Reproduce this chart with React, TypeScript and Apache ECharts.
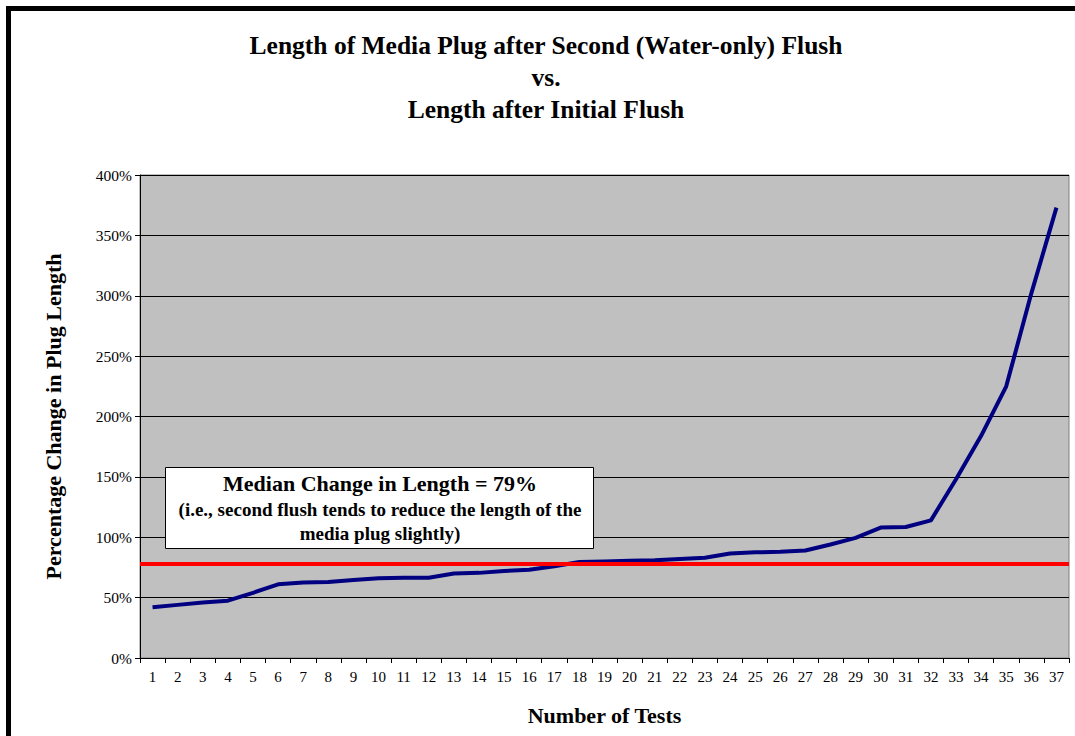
import React, { useEffect, useRef } from "react";
import * as echarts from "echarts";

const categories: string[] = Array.from({ length: 37 }, (_, i) => String(i + 1));
const changePct: number[] = [
  42, 44, 46, 47.5, 54, 61, 62.5, 63, 64.5, 66, 66.5, 66.5, 70, 70.5, 72, 73, 76,
  79.5, 80, 80.5, 81, 82, 83, 86.5, 87.5, 88, 89, 94, 99.5, 108, 108.5, 114,
  148, 184, 225, 302, 373,
];
const medianLine = 78;
const yTicks = { min: 0, max: 400, interval: 50 };
const titleLines = [
  "Length of Media Plug after Second (Water-only) Flush",
  "vs.",
  "Length after Initial Flush",
];
const boxLines = [
  "Median Change in Length = 79%",
  "(i.e., second flush tends to reduce the length of the",
  "media plug slightly)",
];

const FONT = "'Liberation Serif', 'Times New Roman', serif";

export default function App() {
  const ref = useRef<HTMLDivElement>(null);
  useEffect(() => {
    document.body.style.margin = "0";
    if (!ref.current) return;
    const chart = echarts.init(ref.current, null, { renderer: "svg" });
    const txt = (text: string, x: number, y: number, size: number, z = 101) => ({
      type: "text",
      x,
      y,
      z,
      style: {
        text,
        fontFamily: FONT,
        fontWeight: "bold",
        fontSize: size,
        fill: "#000",
        align: "center",
        verticalAlign: "middle",
      },
    });
    chart.setOption({
      animation: false,
      backgroundColor: "#ffffff",
      textStyle: { fontFamily: FONT },
      grid: {
        left: 140,
        top: 175,
        right: 6,
        bottom: 78,
        show: true,
        backgroundColor: "#c0c0c0",
        borderColor: "#808080",
        borderWidth: 1,
      },
      xAxis: {
        type: "category",
        data: categories,
        boundaryGap: true,
        name: "Number of Tests",
        nameLocation: "middle",
        nameGap: 46,
        nameTextStyle: { fontFamily: FONT, fontWeight: "bold", fontSize: 22, color: "#000" },
        axisLine: { lineStyle: { color: "#000", width: 1 } },
        axisTick: { show: true, length: 5, lineStyle: { color: "#000" } },
        axisLabel: { fontFamily: FONT, fontSize: 15, color: "#000", margin: 11, interval: 0 },
        splitLine: { show: false },
      },
      yAxis: {
        type: "value",
        min: yTicks.min,
        max: yTicks.max,
        interval: yTicks.interval,
        name: "Percentage Change in Plug Length",
        nameLocation: "middle",
        nameGap: 76,
        nameTextStyle: { fontFamily: FONT, fontWeight: "bold", fontSize: 22, color: "#000" },
        axisLine: { show: true, lineStyle: { color: "#000", width: 1 } },
        axisTick: { show: true, length: 5, lineStyle: { color: "#000" } },
        axisLabel: { fontFamily: FONT, fontSize: 15.5, color: "#000", margin: 8, formatter: "{value}%" },
        splitLine: { show: true, lineStyle: { color: "#000", width: 1 } },
      },
      series: [
        {
          type: "line",
          data: changePct,
          symbol: "none",
          lineStyle: { color: "#000080", width: 4 },
          z: 3,
          markLine: {
            silent: true,
            symbol: "none",
            label: { show: false },
            lineStyle: { color: "#ff0000", width: 4, type: "solid" },
            data: [{ yAxis: medianLine }],
            z: 4,
          },
        },
      ],
      graphic: [
        { type: "rect", shape: { x: 6, y: 6, width: 1069, height: 5 }, style: { fill: "#000" } },
        { type: "rect", shape: { x: 6, y: 6, width: 5, height: 730 }, style: { fill: "#000" } },
        txt(titleLines[0], 546, 45, 25.5),
        txt(titleLines[1], 546, 77, 25.5),
        txt(titleLines[2], 546, 109, 25.5),
        {
          type: "rect",
          shape: { x: 165.5, y: 467.5, width: 428, height: 81 },
          style: { fill: "#ffffff", stroke: "#000", lineWidth: 1 },
          z: 100,
        },
        txt(boxLines[0], 380, 483, 22),
        txt(boxLines[1], 380, 509, 19),
        txt(boxLines[2], 380, 533, 19),
      ],
    });
    return () => chart.dispose();
  }, []);
  return <div ref={ref} style={{ width: 1075, height: 736 }} />;
}
